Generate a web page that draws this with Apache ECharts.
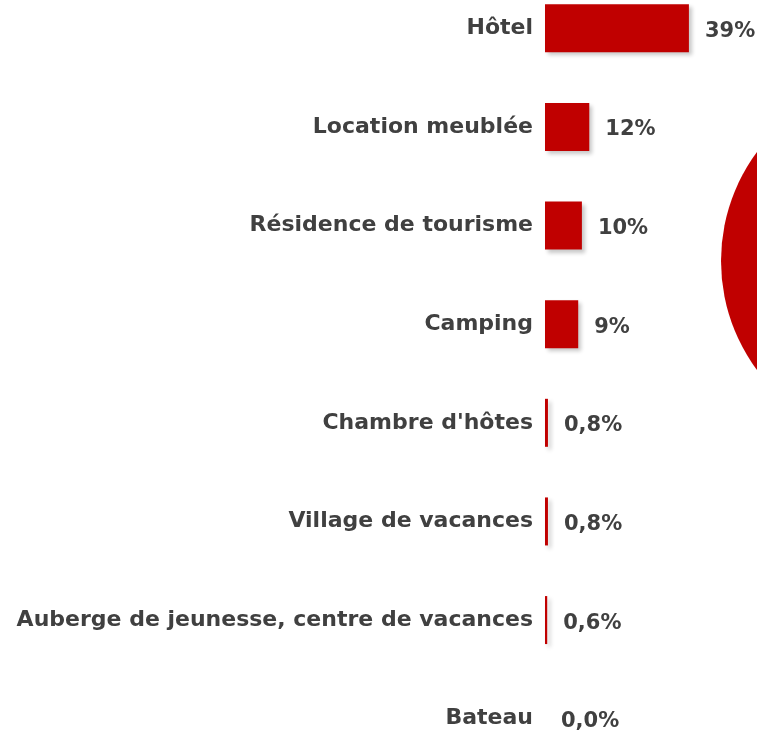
<!DOCTYPE html>
<html>
<head>
<meta charset="utf-8">
<script src="https://cdn.jsdelivr.net/npm/echarts@6/dist/echarts.min.js"></script>
<style>
  html, body { margin: 0; padding: 0; background: #fff; }
  #chart { width: 757px; height: 732px; }
</style>
</head>
<body>
<div id="chart"></div>
<script>
// Accommodation types, top to bottom
const categories = [
  "Hôtel",
  "Location meublée",
  "Résidence de tourisme",
  "Camping",
  "Chambre d'hôtes",
  "Village de vacances",
  "Auberge de jeunesse, centre de vacances",
  "Bateau"
];
// Share of each type, in percent
const shares = [39, 12, 10, 9, 0.8, 0.8, 0.6, 0.0];

const textColor = "#404040";
const barRed = "#C00000";

function fmtShare(v) {
  if (v < 1) return v.toFixed(1).replace(".", ",") + "%";
  return Math.round(v) + "%";
}

const chart = echarts.init(document.getElementById("chart"), null, { renderer: "canvas" });
chart.setOption({
  animation: false,
  backgroundColor: "#ffffff",
  grid: {
    left: 545, top: -21, height: 789, width: 369,
    containLabel: false,
    outerBoundsMode: "none"
  },
  xAxis: {
    type: "value", min: 0, max: 100,
    show: false
  },
  yAxis: {
    type: "category",
    inverse: true,
    data: categories,
    axisLine: { show: false },
    axisTick: { show: false },
    splitLine: { show: false },
    axisLabel: {
      margin: 12,
      color: textColor,
      fontFamily: "DejaVu Sans",
      fontWeight: "bold",
      fontSize: 22
    }
  },
  // decorative disc partly off the right edge
  graphic: [{
    type: "circle",
    shape: { cx: 904, cy: 261, r: 183 },
    style: { fill: barRed },
    z: 0
  }],
  series: [{
    type: "bar",
    data: shares,
    barWidth: 48,
    itemStyle: {
      color: barRed,
      shadowColor: "rgba(0,0,0,0.22)",
      shadowBlur: 4,
      shadowOffsetX: 3,
      shadowOffsetY: 3
    },
    label: {
      show: true,
      position: "right",
      distance: 16,
      offset: [0, 3],
      color: textColor,
      fontFamily: "DejaVu Sans",
      fontWeight: "bold",
      fontSize: 21,
      formatter: p => fmtShare(p.value)
    }
  }]
});
</script>
</body>
</html>
